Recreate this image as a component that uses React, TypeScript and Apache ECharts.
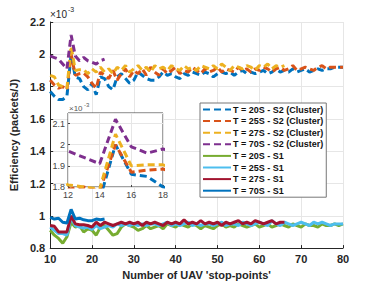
import React, { useEffect, useRef } from "react";
import * as echarts from "echarts";

const X_START = 10;

const names = [
  "T = 20S - S2 (Cluster)",
  "T = 25S - S2 (Cluster)",
  "T = 27S - S2 (Cluster)",
  "T = 70S - S2 (Cluster)",
  "T = 20S - S1",
  "T = 25S - S1",
  "T = 27S - S1",
  "T = 70S - S1",
];
const colors = ["#0072BD", "#D95319", "#EDB120", "#7E2F8E", "#77AC30", "#4DBEEE", "#A2142F", "#0072BD"];

const s2_20 = [1.77,1.74,1.72,1.72,1.74,2.00,1.86,1.85,1.80,1.78,1.82,1.75,1.86,1.85,1.80,1.78,1.86,1.88,1.85,1.82,
  1.84,1.89,1.87,1.85,1.84,1.84,1.86,1.89,1.87,1.88,1.86,1.85,1.88,1.87,1.89,1.88,1.87,1.89,1.88,1.86,
  1.88,1.89,1.88,1.89,1.87,1.89,1.90,1.88,1.89,1.88,1.89,1.90,1.88,1.89,1.91,1.89,1.90,1.89,1.91,1.89,
  1.90,1.91,1.89,1.90,1.91,1.90,1.91,1.91,1.92,1.92,1.92];
const s2_25 = [1.84,1.81,1.79,1.80,1.78,2.00,1.87,1.88,1.885,1.86,1.82,1.79,1.89,1.87,1.85,1.90,1.84,1.88,1.91,1.86,
  1.90,1.88,1.91,1.87,1.92,1.89,1.87,1.91,1.88,1.90,1.92,1.88,1.90,1.89,1.92,1.90,1.88,1.91,1.89,1.90,
  1.92,1.89,1.91,1.90,1.89,1.92,1.90,1.91,1.89,1.91,1.90,1.92,1.91,1.89,1.91,1.92,1.90,1.91,1.93,1.90,
  1.91,1.92,1.91,1.90,1.92,1.93,1.91,1.92,1.92,1.92,1.92];
const s2_27 = [1.87,1.86,1.81,1.80,1.79,2.05,1.90,1.905,1.905,1.88,1.91,1.89,1.92,1.89,1.91,1.88,1.92,1.90,1.93,1.89,
  1.91,1.93,1.90,1.92,1.89,1.93,1.91,1.92,1.90,1.93,1.91,1.90,1.93,1.91,1.92,1.90,1.93,1.92,1.91,1.93,
  1.91,1.94,1.92,1.90,1.93,1.92,1.91,1.93,1.92,1.90,1.93,1.92,1.94,1.91,1.93,1.92,1.93];
const s2_70 = [1.99,1.98,1.97,1.94,1.91,2.12,1.99,1.96,1.98,1.96,1.95,1.94,1.96,1.97];
const s1_20 = [0.91,0.88,0.86,0.83,0.87,0.96,0.93,0.94,0.90,0.92,0.91,0.88,0.93,0.94,0.91,0.88,0.89,0.93,0.95,0.94,
  0.93,0.91,0.92,0.94,0.92,0.93,0.94,0.92,0.95,0.94,0.93,0.95,0.94,0.93,0.95,0.94,0.92,0.94,0.93,0.92,
  0.94,0.95,0.93,0.94,0.93,0.95,0.94,0.93,0.94,0.95,0.93,0.94,0.95,0.93,0.94,0.95,0.94,0.93,0.95,0.94,
  0.93,0.95,0.94,0.94,0.93,0.95,0.94,0.94,0.95,0.94,0.95];
const s1_25 = [0.93,0.91,0.89,0.89,0.88,0.99,0.94,0.93,0.925,0.93,0.915,0.94,0.92,0.93,0.94,0.93,0.95,0.94,0.95,0.94,
  0.95,0.94,0.95,0.94,0.95,0.95,0.94,0.95,0.96,0.94,0.95,0.94,0.95,0.96,0.94,0.95,0.94,0.95,0.95,0.94,
  0.95,0.96,0.94,0.95,0.95,0.94,0.96,0.95,0.94,0.95,0.96,0.95,0.94,0.97,0.95,0.94,0.96,0.95,0.94,0.95,
  0.96,0.95,0.94,0.96,0.95,0.96,0.95,0.94,0.95,0.95,0.95];
const s1_27 = [0.94,0.935,0.90,0.90,0.90,1.00,0.95,0.945,0.945,0.94,0.93,0.96,0.94,0.96,0.95,0.94,0.95,0.96,0.95,0.96,
  0.95,0.96,0.94,0.96,0.95,0.96,0.95,0.94,0.96,0.95,0.96,0.95,0.975,0.95,0.96,0.95,0.97,0.95,0.96,0.95,
  0.96,0.94,0.96,0.95,0.96,0.97,0.95,0.96,0.95,0.97,0.96,0.95,0.96,0.97,0.95,0.96,0.96];
const s1_70 = [0.99,0.98,0.985,0.96,0.955,1.04,0.98,0.985,0.975,0.97,0.97,0.98,0.975,0.98];

const seriesValues = [s2_20, s2_25, s2_27, s2_70, s1_20, s1_25, s1_27, s1_70];

const mainXTicks = { min: 10, max: 80, interval: 10 };
const mainYTicks = { min: 0.8, max: 2.2, interval: 0.2 };
const insetXTicks = { min: 12, max: 18, interval: 2 };
const insetYTicks = { min: 1.8, max: 2.15, interval: 0.1 };

const toPairs = (vals: number[]) => vals.map((v, i) => [X_START + i, v]);

export default function App() {
  const ref = useRef<HTMLDivElement>(null);
  useEffect(() => {
    if (!ref.current) return;
    const chart = echarts.init(ref.current, null, { renderer: "svg" });
    const font = "Liberation Sans, Arial, sans-serif";
    const series: any[] = [];
    seriesValues.forEach((vals, i) => {
      series.push({
        name: names[i],
        type: "line",
        data: toPairs(vals),
        xAxisIndex: 0,
        yAxisIndex: 0,
        symbol: "none",
        z: 2,
        lineStyle: { color: colors[i], width: 3, type: i < 4 ? [7, 4] : "solid" },
        itemStyle: { color: colors[i] },
      });
    });
    seriesValues.slice(0, 4).forEach((vals, i) => {
      series.push({
        name: names[i],
        type: "line",
        data: toPairs(vals),
        xAxisIndex: 1,
        yAxisIndex: 1,
        symbol: "none",
        clip: true,
        z: 8,
        lineStyle: { color: colors[i], width: 3, type: [7, 4] },
        itemStyle: { color: colors[i] },
      });
    });
    const fmt = (v: number) => String(parseFloat(v.toFixed(2)));
    chart.setOption({
      animation: false,
      backgroundColor: "#fff",
      textStyle: { fontFamily: font },
      grid: [
        { left: 49, right: 36, top: 22, bottom: 32, show: false },
        { left: 68, width: 95, top: 113, height: 74, show: true, backgroundColor: "#fff", borderColor: "#444", borderWidth: 1, z: 5 },
      ],
      xAxis: [
        {
          type: "value", gridIndex: 0, ...mainXTicks,
          name: "Number of UAV 'stop-points'", nameLocation: "middle", nameGap: 18,
          nameTextStyle: { fontSize: 11, fontWeight: "bold", color: "#262626", fontFamily: font },
          axisLine: { show: true, lineStyle: { color: "#262626", width: 1 } },
          axisTick: { show: true, inside: true, length: 3, lineStyle: { color: "#262626" } },
          axisLabel: { fontSize: 11, fontWeight: "bold", color: "#262626", margin: 5, fontFamily: font },
          splitLine: { show: true, lineStyle: { color: "#e6e6e6", width: 1 } },
        },
        {
          type: "value", gridIndex: 1, ...insetXTicks, z: 6,
          axisLine: { show: false },
          axisTick: { show: true, inside: true, length: 2, lineStyle: { color: "#444" } },
          axisLabel: { fontSize: 9, color: "#444", margin: 3, fontFamily: font },
          splitLine: { show: true, lineStyle: { color: "#e6e6e6", width: 1 } },
        },
      ],
      yAxis: [
        {
          type: "value", gridIndex: 0, ...mainYTicks,
          name: "Efficiency (packets/J)", nameLocation: "middle", nameGap: 22,
          nameTextStyle: { fontSize: 11, fontWeight: "bold", color: "#262626", fontFamily: font },
          axisLine: { show: true, lineStyle: { color: "#262626", width: 1 } },
          axisTick: { show: true, inside: true, length: 3, lineStyle: { color: "#262626" } },
          axisLabel: { fontSize: 11, fontWeight: "bold", color: "#262626", margin: 5, fontFamily: font, formatter: fmt },
          splitLine: { show: true, lineStyle: { color: "#e6e6e6", width: 1 } },
        },
        {
          type: "value", gridIndex: 1, ...insetYTicks, z: 6,
          axisLine: { show: false },
          axisTick: { show: true, inside: true, length: 2, lineStyle: { color: "#444" } },
          axisLabel: { fontSize: 9, color: "#444", margin: 3, fontFamily: font, formatter: fmt, showMaxLabel: false },
          splitLine: { show: true, lineStyle: { color: "#e6e6e6", width: 1 } },
        },
      ],
      legend: {
        data: names,
        orient: "vertical",
        left: 200,
        top: 103,
        itemWidth: 28,
        itemHeight: 9,
        itemGap: 2.6,
        padding: [2, 3, 2, 2],
        borderColor: "#777",
        borderWidth: 1,
        backgroundColor: "#fff",
        itemStyle: { opacity: 0 },
        textStyle: { fontSize: 9, fontWeight: "bold", color: "#111", fontFamily: font, padding: [0, 0, 0, -3] },
        z: 10,
      },
      graphic: [
        { type: "text", left: 50, top: 9, style: { text: "×10", fontSize: 10, fill: "#262626", fontFamily: font } },
        { type: "text", left: 68, top: 6, style: { text: "-3", fontSize: 7, fill: "#262626", fontFamily: font } },
        { type: "text", left: 69, top: 104, z: 10, style: { text: "×10", fontSize: 8, fill: "#555", fontFamily: font } },
        { type: "text", left: 84, top: 102, z: 10, style: { text: "-3", fontSize: 6, fill: "#555", fontFamily: font } },
      ],
      series,
    });
    return () => chart.dispose();
  }, []);
  return <div ref={ref} style={{ width: 379, height: 285, position: "fixed", left: 0, top: 0 }} />;
}
